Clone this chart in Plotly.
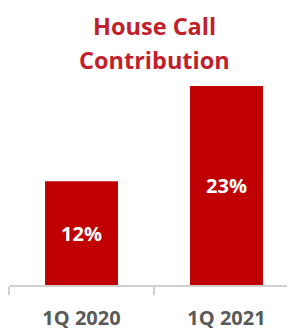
import plotly.graph_objects as go

categories = ["1Q 2020", "1Q 2021"]
values = [12, 23]
labels = ["12%", "23%"]
title_lines = ["House Call", "Contribution"]

RED = "#C00000"
TITLE_RED = "#C0202A"
FONT = "Open Sans"

# The page body has an 8px default margin, so the figure is sized/offset to compensate.
fig = go.Figure(go.Bar(
    x=categories, y=values, text=labels,
    marker=dict(color=RED, line=dict(width=0)),
    textposition="inside", insidetextanchor="middle",
    textfont=dict(family=FONT, size=20, color="white", weight="bold"),
    textangle=0, cliponaxis=False,
))

for line, ypos in zip(title_lines, [1.304, 1.132]):
    fig.add_annotation(
        text=line, xref="paper", yref="paper", x=0.502, y=ypos,
        xanchor="center", yanchor="middle", showarrow=False,
        font=dict(family=FONT, size=23.5, color=TITLE_RED, weight="bold"),
    )

fig.update_layout(
    width=291, height=323,
    margin=dict(l=1, r=0, t=78, b=41),
    paper_bgcolor="white", plot_bgcolor="white",
    bargap=0.497,
    showlegend=False,
    xaxis=dict(
        type="category",
        showline=True, linecolor="#D0D0D0", linewidth=1.5,
        ticks="outside", tickson="boundaries", ticklen=8,
        tickcolor="#D0D0D0", tickwidth=1.5,
        tickfont=dict(family=FONT, size=20, color="#595959", weight="bold"),
        ticklabelstandoff=14,
        showgrid=False, zeroline=False, fixedrange=True,
    ),
    yaxis=dict(range=[0, 23], visible=False, fixedrange=True),
)

fig.write_html("out.html")
